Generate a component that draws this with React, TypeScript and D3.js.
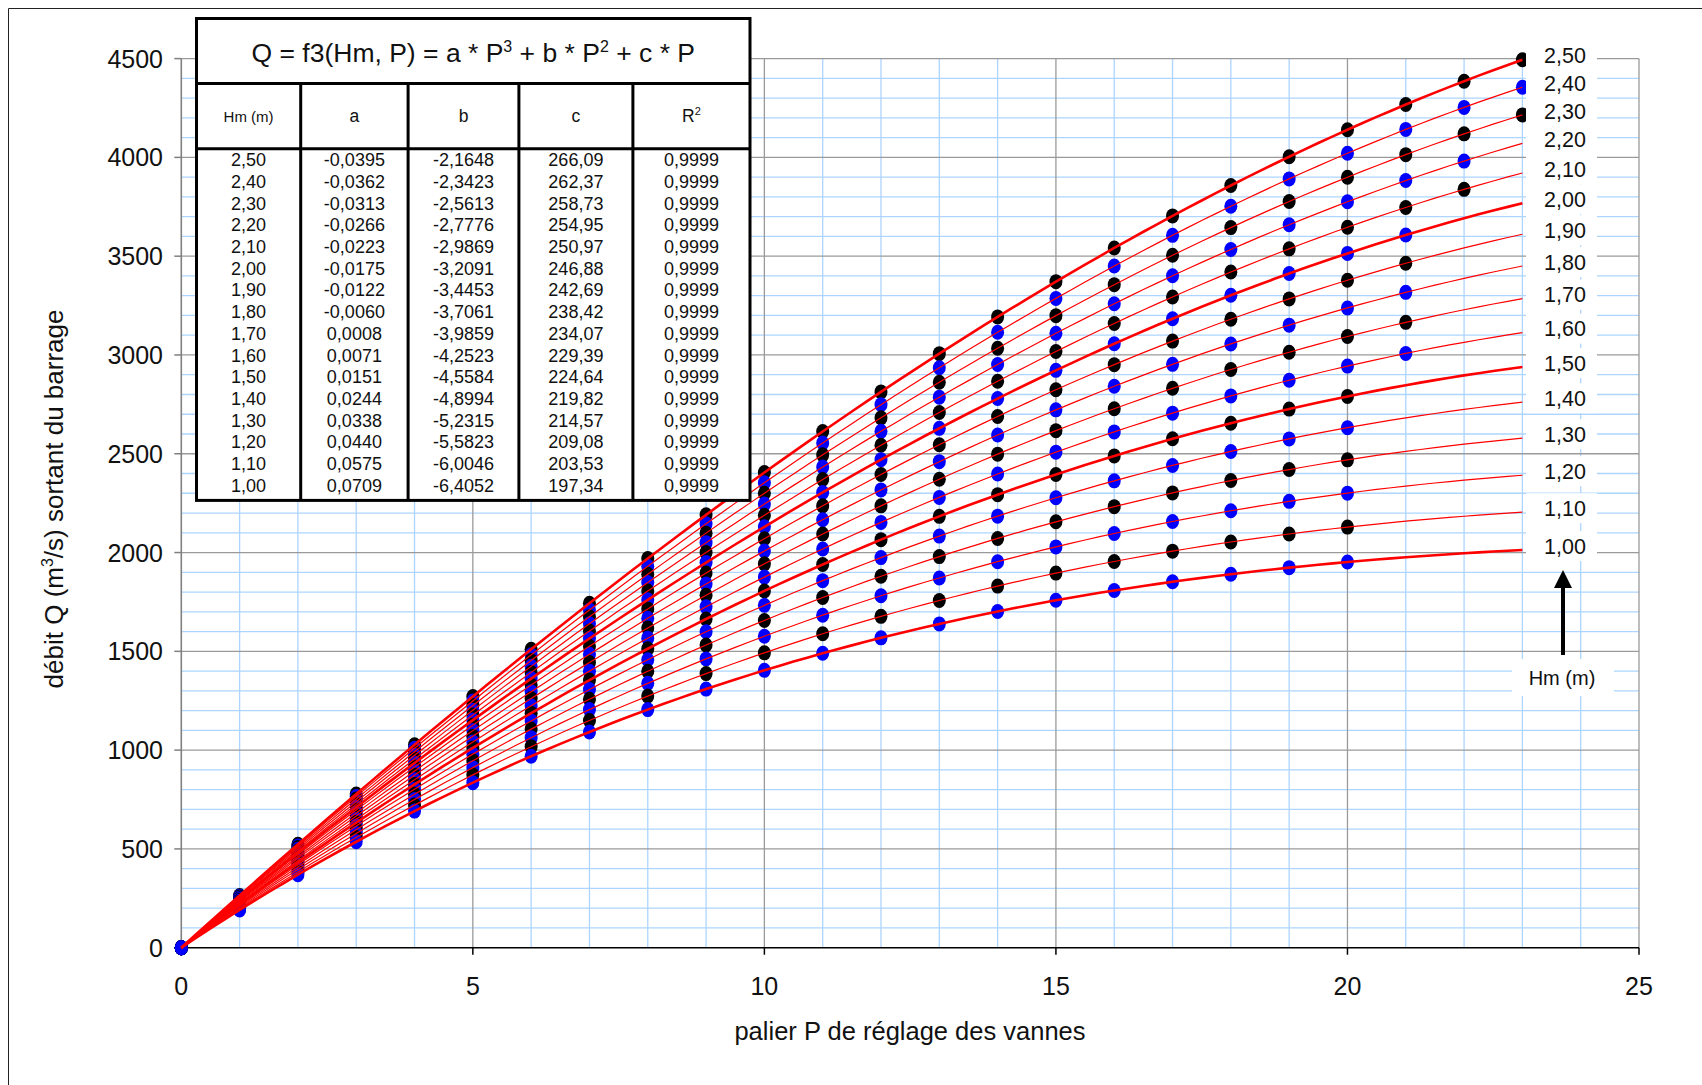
import React from "react";
import * as d3 from "d3";

// Hauteur moyenne Hm (m) de chaque courbe, de la plus haute à la plus basse
const hmLevels = [2.5, 2.4, 2.3, 2.2, 2.1, 2.0, 1.9, 1.8, 1.7, 1.6, 1.5, 1.4, 1.3, 1.2, 1.1, 1.0];
// Coefficients du polynôme Q = a*P^3 + b*P^2 + c*P
const coefA = [-0.0395, -0.0362, -0.0313, -0.0266, -0.0223, -0.0175, -0.0122, -0.006, 0.0008, 0.0071, 0.0151, 0.0244, 0.0338, 0.044, 0.0575, 0.0709];
const coefB = [-2.1648, -2.3423, -2.5613, -2.7776, -2.9869, -3.2091, -3.4453, -3.7061, -3.9859, -4.2523, -4.5584, -4.8994, -5.2315, -5.5823, -6.0046, -6.4052];
const coefC = [266.09, 262.37, 258.73, 254.95, 250.97, 246.88, 242.69, 238.42, 234.07, 229.39, 224.64, 219.82, 214.57, 209.08, 203.53, 197.34];
const rSquared = [0.9999, 0.9999, 0.9999, 0.9999, 0.9999, 0.9999, 0.9999, 0.9999, 0.9999, 0.9999, 0.9999, 0.9999, 0.9999, 0.9999, 0.9999, 0.9999];
// Dernier palier mesuré pour chaque Hm
const lastPalier = [23, 23, 23, 22, 22, 21, 21, 21, 21, 21, 20, 20, 20, 20, 20, 20];
const curveEnd = 23;

const xTicks = [0, 5, 10, 15, 20, 25];
const yTicks = [0, 500, 1000, 1500, 2000, 2500, 3000, 3500, 4000, 4500];

const W = 1702;
const H = 1085;
const plot = { left: 181.3, right: 1639, top: 58.6, bottom: 947.7 };

const x = d3.scaleLinear().domain([0, 25]).range([plot.left, plot.right]);
const y = d3.scaleLinear().domain([0, 4500]).range([plot.bottom, plot.top]);

const fr = d3.formatLocale({ decimal: ",", thousands: " ", grouping: [3], currency: ["", ""], minus: "-" });
const f2 = fr.format(".2f");
const f4 = fr.format(".4f");

const flow = (i: number, p: number) => coefA[i] * p ** 3 + coefB[i] * p ** 2 + coefC[i] * p;

const FONT = "'Liberation Sans', Arial, sans-serif";
const RED = "#ff0000";
const MINOR = "#add5ff";
const MAJOR = "#9a9a9a";

const line = d3
  .line<number[]>()
  .x((p) => x(p[0]))
  .y((p) => y(p[1]));

export default function App() {
  const minorX = d3.range(1, 25).filter((v) => v % 5 !== 0);
  const majorX = d3.range(5, 26, 5);
  const minorY = d3.range(100, 4500, 100).filter((v) => v % 500 !== 0);
  const majorY = d3.range(500, 4501, 500);

  const samples = d3.range(0, curveEnd + 0.0001, 0.25);

  // Tableau des coefficients
  const tLeft = 196.5;
  const tRight = 750;
  const tTop = 18.5;
  const tTitle = 83.6;
  const tHead = 148.7;
  const tBottom = 500.4;
  const cols = [196.5, 300.7, 408.1, 518.9, 632.9, 750];
  const colMid = (k: number) => (cols[k] + cols[k + 1]) / 2;
  const rowY = (r: number) => 159.6 + r * 21.72;

  return (
    <svg
      width={W}
      height={H}
      viewBox={`0 0 ${W} ${H}`}
      style={{ position: "absolute", left: 0, top: 0, background: "#fff", fontFamily: FONT }}
    >
      <rect x={0} y={0} width={W} height={H} fill="#fff" />
      {/* cadre extérieur */}
      <line x1={8.5} y1={8.5} x2={W} y2={8.5} stroke="#222" strokeWidth={1} />
      <line x1={8.5} y1={8.5} x2={8.5} y2={H} stroke="#222" strokeWidth={1} />

      {/* quadrillage secondaire */}
      <g stroke={MINOR} strokeWidth={1.3}>
        {minorX.map((v) => (
          <line key={"mx" + v} x1={x(v)} x2={x(v)} y1={plot.top} y2={plot.bottom} />
        ))}
        {minorY.map((v) => (
          <line key={"my" + v} x1={plot.left} x2={plot.right} y1={y(v)} y2={y(v)} />
        ))}
      </g>
      {/* quadrillage principal */}
      <g stroke={MAJOR} strokeWidth={1.3}>
        {majorX.map((v) => (
          <line key={"Mx" + v} x1={x(v)} x2={x(v)} y1={plot.top} y2={plot.bottom} />
        ))}
        {majorY.map((v) => (
          <line key={"My" + v} x1={plot.left} x2={plot.right} y1={y(v)} y2={y(v)} />
        ))}
      </g>

      {/* axes */}
      <line x1={plot.left} x2={plot.left} y1={plot.top} y2={plot.bottom} stroke="#808080" strokeWidth={1.6} />
      {yTicks.map((v) => (
        <g key={"yt" + v}>
          <line x1={plot.left - 7} x2={plot.left} y1={y(v)} y2={y(v)} stroke="#808080" strokeWidth={1.5} />
          <text x={163} y={y(v)} dy="0.36em" textAnchor="end" fontSize={25} fill="#111">
            {v}
          </text>
        </g>
      ))}
      <line x1={plot.left} x2={plot.right} y1={plot.bottom} y2={plot.bottom} stroke="#000" strokeWidth={1.6} />
      {xTicks.map((v) => (
        <g key={"xt" + v}>
          <line x1={x(v)} x2={x(v)} y1={plot.bottom} y2={plot.bottom + 7} stroke="#000" strokeWidth={1.5} />
          <text x={x(v)} y={985.5} dy="0.36em" textAnchor="middle" fontSize={25} fill="#111">
            {v}
          </text>
        </g>
      ))}

      {/* titres des axes */}
      <text x={910} y={1031} dy="0.36em" textAnchor="middle" fontSize={25.5} fill="#111">
        palier P de réglage des vannes
      </text>
      <text
        transform="translate(54,499) rotate(-90)"
        dy="0.36em"
        textAnchor="middle"
        fontSize={26}
        fill="#111"
      >
        débit Q (m
        <tspan fontSize={16} dy="-10">
          3
        </tspan>
        <tspan dy="10">/s) sortant du barrage</tspan>
      </text>

      {/* points mesurés */}
      <g>
        {hmLevels.map((hm, i) => {
          const color = Math.round(hm * 10) % 2 === 0 ? "#0000ff" : "#000000";
          return d3.range(0, lastPalier[i] + 1).map((p) => (
            <ellipse key={`d${i}-${p}`} cx={x(p)} cy={y(flow(i, p))} rx={6.5} ry={7.5} fill={color} />
          ));
        })}
      </g>

      {/* courbes ajustées */}
      <g fill="none" stroke={RED} strokeLinejoin="round">
        {hmLevels.map((hm, i) => (
          <path
            key={"c" + i}
            d={line(samples.map((p) => [p, flow(i, p)])) || ""}
            strokeWidth={i % 5 === 0 ? 2.6 : 1.2}
          />
        ))}
      </g>

      {/* étiquettes Hm en bout de courbe */}
      <g>
        {hmLevels.map((hm, i) => {
          const cy = y(flow(i, curveEnd)) - 4;
          return <rect key={"l" + i} x={1526} y={cy - 15} width={71} height={30} fill="#fff" />;
        })}
        {hmLevels.map((hm, i) => {
          const cy = y(flow(i, curveEnd)) - 4;
          return (
            <text key={"lt" + i} x={1565} y={cy} dy="0.36em" textAnchor="middle" fontSize={21.5} fill="#111">
              {f2(hm)}
            </text>
          );
        })}
      </g>

      {/* flèche Hm */}
      <line x1={1563} x2={1563} y1={655} y2={584} stroke="#000" strokeWidth={4} />
      <path d="M1563,570 L1554,588 L1572,588 Z" fill="#000" />
      <rect x={1512} y={659} width={102} height={37} fill="#fff" />
      <text x={1562} y={677.5} dy="0.36em" textAnchor="middle" fontSize={20} fill="#111">
        Hm (m)
      </text>

      {/* tableau des coefficients */}
      <g>
        <rect x={tLeft} y={tTop} width={tRight - tLeft} height={tBottom - tTop} fill="#fff" stroke="#000" strokeWidth={3} />
        <line x1={tLeft} x2={tRight} y1={tTitle} y2={tTitle} stroke="#000" strokeWidth={3} />
        <line x1={tLeft} x2={tRight} y1={tHead} y2={tHead} stroke="#000" strokeWidth={3} />
        {cols.slice(1, -1).map((cx) => (
          <line key={"cl" + cx} x1={cx} x2={cx} y1={tTitle} y2={tBottom} stroke="#000" strokeWidth={3} />
        ))}
        <text x={(tLeft + tRight) / 2} y={(tTop + tTitle) / 2 + 1} dy="0.36em" textAnchor="middle" fontSize={26.5} fill="#111">
          Q = f3(Hm, P) = a * P
          <tspan fontSize={16} dy="-10">
            3
          </tspan>
          <tspan dy="10"> + b * P</tspan>
          <tspan fontSize={16} dy="-10">
            2
          </tspan>
          <tspan dy="10"> + c * P</tspan>
        </text>
        {["Hm (m)", "a", "b", "c"].map((h, k) => (
          <text
            key={"h" + k}
            x={colMid(k)}
            y={(tTitle + tHead) / 2}
            dy="0.36em"
            textAnchor="middle"
            fontSize={k === 0 ? 15 : 17.5}
            fill="#111"
          >
            {h}
          </text>
        ))}
        <text x={colMid(4)} y={(tTitle + tHead) / 2} dy="0.36em" textAnchor="middle" fontSize={17.5} fill="#111">
          R
          <tspan fontSize={11} dy="-7">
            2
          </tspan>
        </text>
        {hmLevels.map((hm, r) => (
          <g key={"r" + r} fontSize={18} fill="#111" textAnchor="middle">
            <text x={colMid(0)} y={rowY(r)} dy="0.36em">
              {f2(hm)}
            </text>
            <text x={colMid(1)} y={rowY(r)} dy="0.36em">
              {f4(coefA[r])}
            </text>
            <text x={colMid(2)} y={rowY(r)} dy="0.36em">
              {f4(coefB[r])}
            </text>
            <text x={colMid(3)} y={rowY(r)} dy="0.36em">
              {f2(coefC[r])}
            </text>
            <text x={colMid(4)} y={rowY(r)} dy="0.36em">
              {f4(rSquared[r])}
            </text>
          </g>
        ))}
      </g>
    </svg>
  );
}
